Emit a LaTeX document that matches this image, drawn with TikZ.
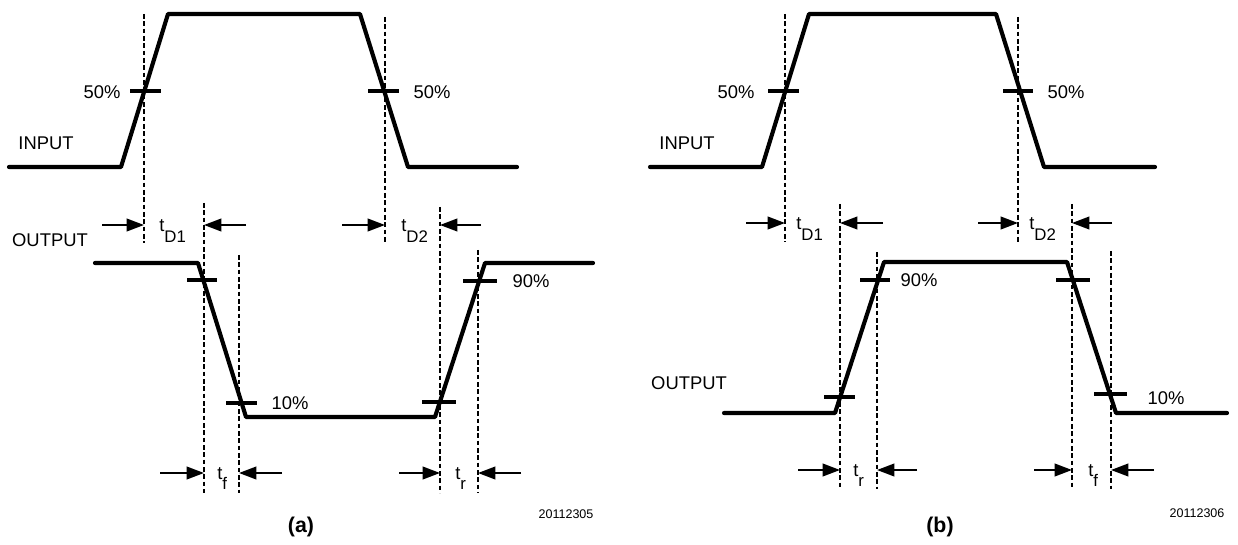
\documentclass[tikz,border=0pt]{standalone}
\usepackage{fontspec}
\setmainfont{Liberation Sans}
\usetikzlibrary{arrows.meta}
\newcommand\tsubl[3]{#1\raisebox{-#3}{\fontsize{12.6}{12.6}\selectfont #2}}
\begin{document}
\begin{tikzpicture}[x=0.75pt,y=-0.75pt,
  sig/.style={line width=3.1pt,line cap=round,line join=round},
  tickmark/.style={line width=2.6pt},
  guide/.style={line width=1.25pt,dash pattern=on 3.6pt off 1.9pt},
  meas/.style={line width=1.35pt,-{Triangle[length=13pt,width=9.5pt]}},
  lbl/.style={inner sep=0pt,anchor=base,font=\fontsize{13.8}{16}\selectfont},
  sublbl/.style={inner sep=0pt,anchor=base west,font=\fontsize{13.8}{16}\selectfont},
  code/.style={inner sep=0pt,anchor=base,font=\fontsize{9.4}{11}\selectfont},
  captxt/.style={inner sep=0pt,anchor=base,font=\fontsize{16}{18}\selectfont\bfseries}]
\useasboundingbox[fill=white] (0,0) rectangle (1238,545);

%================ panel (a) ================
% input
\draw[sig] (9,167) -- (121,167) -- (168,14) -- (360,14) -- (408,167) -- (517,167);
\draw[tickmark] (130,91) -- (161,91);
\draw[tickmark] (368,91) -- (399,91);
\draw[guide] (144,14) -- (144,243);
\draw[guide] (385,17) -- (385,243);
% output
\draw[sig] (95,263) -- (198,263) -- (246,417) -- (435,417) -- (485,263) -- (593,263);
\draw[tickmark] (187,280) -- (217,280);
\draw[tickmark] (226,403) -- (257,403);
\draw[tickmark] (422,402) -- (456,402);
\draw[tickmark] (463,281) -- (497,281);
\draw[guide] (204,203) -- (204,493);
\draw[guide] (239,255) -- (239,493);
\draw[guide] (440,207) -- (440,493);
\draw[guide] (478,250) -- (478,493);
% measurement arrows
\coordinate (aD1l) at (144,225); \coordinate (aD1r) at (204,225);
\coordinate (aD2l) at (385,225); \coordinate (aD2r) at (440,225);
\coordinate (afl) at (204,473);  \coordinate (afr) at (239,473);
\coordinate (arl) at (440,473);  \coordinate (arr) at (478,473);
\draw[meas] (102,225) -- (aD1l);
\draw[meas] (246,225) -- (aD1r);
\draw[meas] (342,225) -- (aD2l);
\draw[meas] (481,225) -- (aD2r);
\draw[meas] (160,473) -- (afl);
\draw[meas] (282,473) -- (afr);
\draw[meas] (399,473) -- (arl);
\draw[meas] (521,473) -- (arr);
% labels
\node[lbl] (a50l) at (102,98.5) {50\%};
\node[lbl] (a50r) at (432,98.5) {50\%};
\node[lbl] (ain) at (46,149.5) {INPUT};
\node[lbl] (aout) at (50,246.5) {OUTPUT};
\node[lbl] (a90) at (531,287.5) {90\%};
\node[lbl] (a10) at (290,409.5) {10\%};
\node[sublbl] (atD1) at (159,232) {\tsubl{t}{D1}{8pt}};
\node[sublbl] (atD2) at (401,232) {\tsubl{t}{D2}{8pt}};
\node[sublbl] (atf) at (217,479) {\tsubl{t}{f}{7.5pt}};
\node[sublbl] (atr) at (455,479) {\tsubl{t}{r}{7.5pt}};
\node[code] (acode) at (566,518.5) {20112305};
\node[captxt] (acap) at (301,532) {(a)};

%================ panel (b) ================
% input
\draw[sig] (650,167) -- (762,167) -- (809,14) -- (996,14) -- (1044,167) -- (1155,167);
\draw[tickmark] (768,91) -- (799,91);
\draw[tickmark] (1003,91) -- (1033,91);
\draw[guide] (785,14) -- (785,242);
\draw[guide] (1018,17) -- (1018,243);
% output
\draw[sig] (724,413) -- (835,413) -- (884,262) -- (1067,262) -- (1116,413) -- (1227,413);
\draw[tickmark] (860,280) -- (890,280);
\draw[tickmark] (1056,280) -- (1090,280);
\draw[tickmark] (824,397) -- (855,397);
\draw[tickmark] (1094,394) -- (1127,394);
\draw[guide] (840,204) -- (840,489);
\draw[guide] (877,252) -- (877,489);
\draw[guide] (1072,204) -- (1072,489);
\draw[guide] (1111,251) -- (1111,489);
% measurement arrows
\coordinate (bD1l) at (785,223); \coordinate (bD1r) at (840,223);
\coordinate (bD2l) at (1018,223); \coordinate (bD2r) at (1072,223);
\coordinate (brl) at (840,470);  \coordinate (brr) at (877,470);
\coordinate (bfl) at (1072,470); \coordinate (bfr) at (1111,470);
\draw[meas] (746,223) -- (bD1l);
\draw[meas] (883,223) -- (bD1r);
\draw[meas] (978,223) -- (bD2l);
\draw[meas] (1112,223) -- (bD2r);
\draw[meas] (798,470) -- (brl);
\draw[meas] (917,470) -- (brr);
\draw[meas] (1034,470) -- (bfl);
\draw[meas] (1154,470) -- (bfr);
% labels
\node[lbl] (b50l) at (736,98.5) {50\%};
\node[lbl] (b50r) at (1066,98.5) {50\%};
\node[lbl] (bin) at (687,149.5) {INPUT};
\node[lbl] (bout) at (689,389.5) {OUTPUT};
\node[lbl] (b90) at (919,286.5) {90\%};
\node[lbl] (b10) at (1166,404.5) {10\%};
\node[sublbl] (btD1) at (796,230) {\tsubl{t}{D1}{8pt}};
\node[sublbl] (btD2) at (1029,230) {\tsubl{t}{D2}{8pt}};
\node[sublbl] (btr) at (853,476) {\tsubl{t}{r}{7.5pt}};
\node[sublbl] (btf) at (1088,476) {\tsubl{t}{f}{7.5pt}};
\node[code] (bcode) at (1197,517.5) {20112306};
\node[captxt] (bcap) at (940,532) {(b)};
\end{tikzpicture}
\end{document}
